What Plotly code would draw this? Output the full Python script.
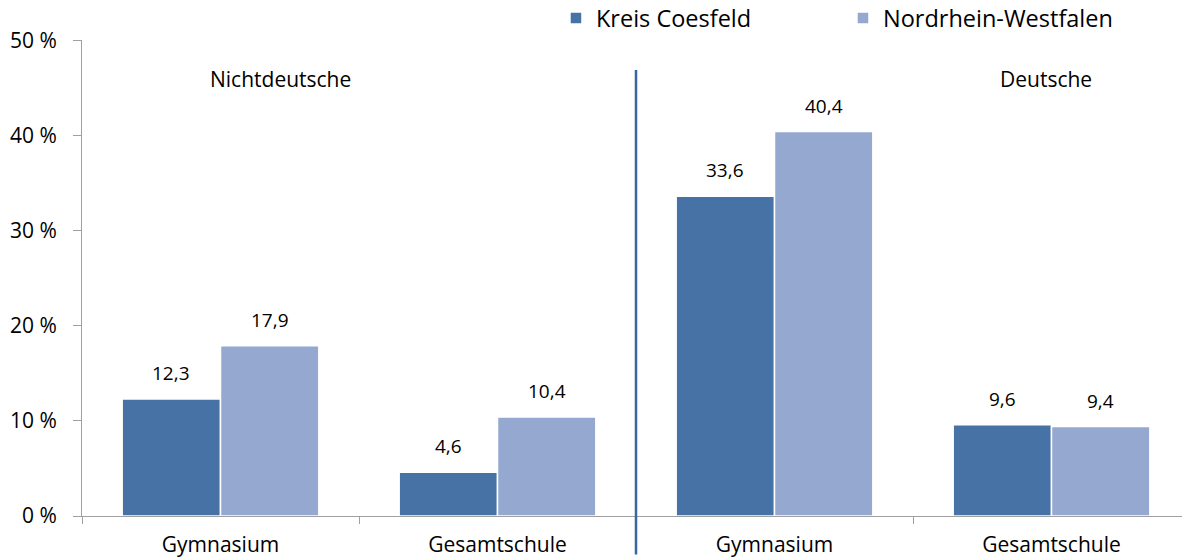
import plotly.graph_objects as go

categories = ["Gymnasium", "Gesamtschule", "Gymnasium", "Gesamtschule"]
kreis = [12.3, 4.6, 33.6, 9.6]
nrw = [17.9, 10.4, 40.4, 9.4]
y_ticks = [0, 10, 20, 30, 40, 50]
y_ticktext = ["0 %", "10 %", "20 %", "30 %", "40 %", "50 %"]
groups = ["Nichtdeutsche", "Deutsche"]

FONT = "Open Sans"
xpos = list(range(len(categories)))
BARGAP = 0.29
half = (1 - BARGAP) / 4  # centre offset of each bar within its group

def fmt(v):
    return f"{v:.1f}".replace(".", ",")

fig = go.Figure()
fig.add_trace(go.Bar(
    x=xpos, y=kreis, name="Kreis Coesfeld",
    marker=dict(color="#4672A6", line=dict(color="white", width=1.5)),
))
fig.add_trace(go.Bar(
    x=xpos, y=nrw, name="Nordrhein-Westfalen",
    marker=dict(color="#95A9D0", line=dict(color="white", width=1.5)),
))

for series, sign in ((kreis, -1), (nrw, 1)):
    for xi, v in zip(xpos, series):
        fig.add_annotation(x=xi + sign * half, y=v, xref="x", yref="y",
                           text=fmt(v), showarrow=False, yshift=26,
                           font=dict(size=19, family=FONT, color="black"))

# the page body adds an 8 px offset, so the figure is 8 px smaller
fig.update_layout(
    width=1182, height=552,
    margin=dict(l=74, r=0, t=28, b=44),
    paper_bgcolor="white", plot_bgcolor="white",
    barmode="group", bargap=BARGAP, bargroupgap=0,
    font=dict(family=FONT, color="black", size=18),
    showlegend=True,
    legend=dict(orientation="h", xref="container", yref="container",
                x=0.4636, xanchor="left", y=0.9815, yanchor="middle",
                font=dict(size=23.5, family=FONT), itemwidth=30, traceorder="normal",
                entrywidth=242, bgcolor="rgba(0,0,0,0)"),
    xaxis=dict(
        range=[-0.5, len(categories) - 0.5], automargin=False,
        tickvals=xpos, ticktext=categories, ticks="", showgrid=False,
        showline=True, linecolor="#A0A0A0", linewidth=1,
        ticklabelstandoff=10,
        tickfont=dict(size=21, family=FONT),
        minor=dict(tickvals=[i - 0.5 for i in range(len(categories) + 1)],
                   ticks="outside", ticklen=7, tickcolor="#A0A0A0", showgrid=False),
    ),
    yaxis=dict(
        range=[0, 50], tickvals=y_ticks, ticktext=y_ticktext, automargin=False,
        showgrid=False, zeroline=False,
        showline=True, linecolor="#A0A0A0", linewidth=1,
        ticks="outside", ticklen=8, tickcolor="#A0A0A0",
        ticklabelstandoff=12,
        tickfont=dict(size=21, family=FONT),
    ),
)

fig.add_shape(type="line", xref="paper", yref="paper",
              x0=0.5, x1=0.5, y0=-0.081, y1=0.9375,
              line=dict(color="#3A65A0", width=2.5))

fig.add_annotation(text=groups[0], xref="x", yref="y", x=0.215, y=45.9, showarrow=False,
                   font=dict(size=21, family=FONT))
fig.add_annotation(text=groups[1], xref="x", yref="y", x=2.98, y=45.9, showarrow=False,
                   font=dict(size=21, family=FONT))

fig.write_html("out.html")
